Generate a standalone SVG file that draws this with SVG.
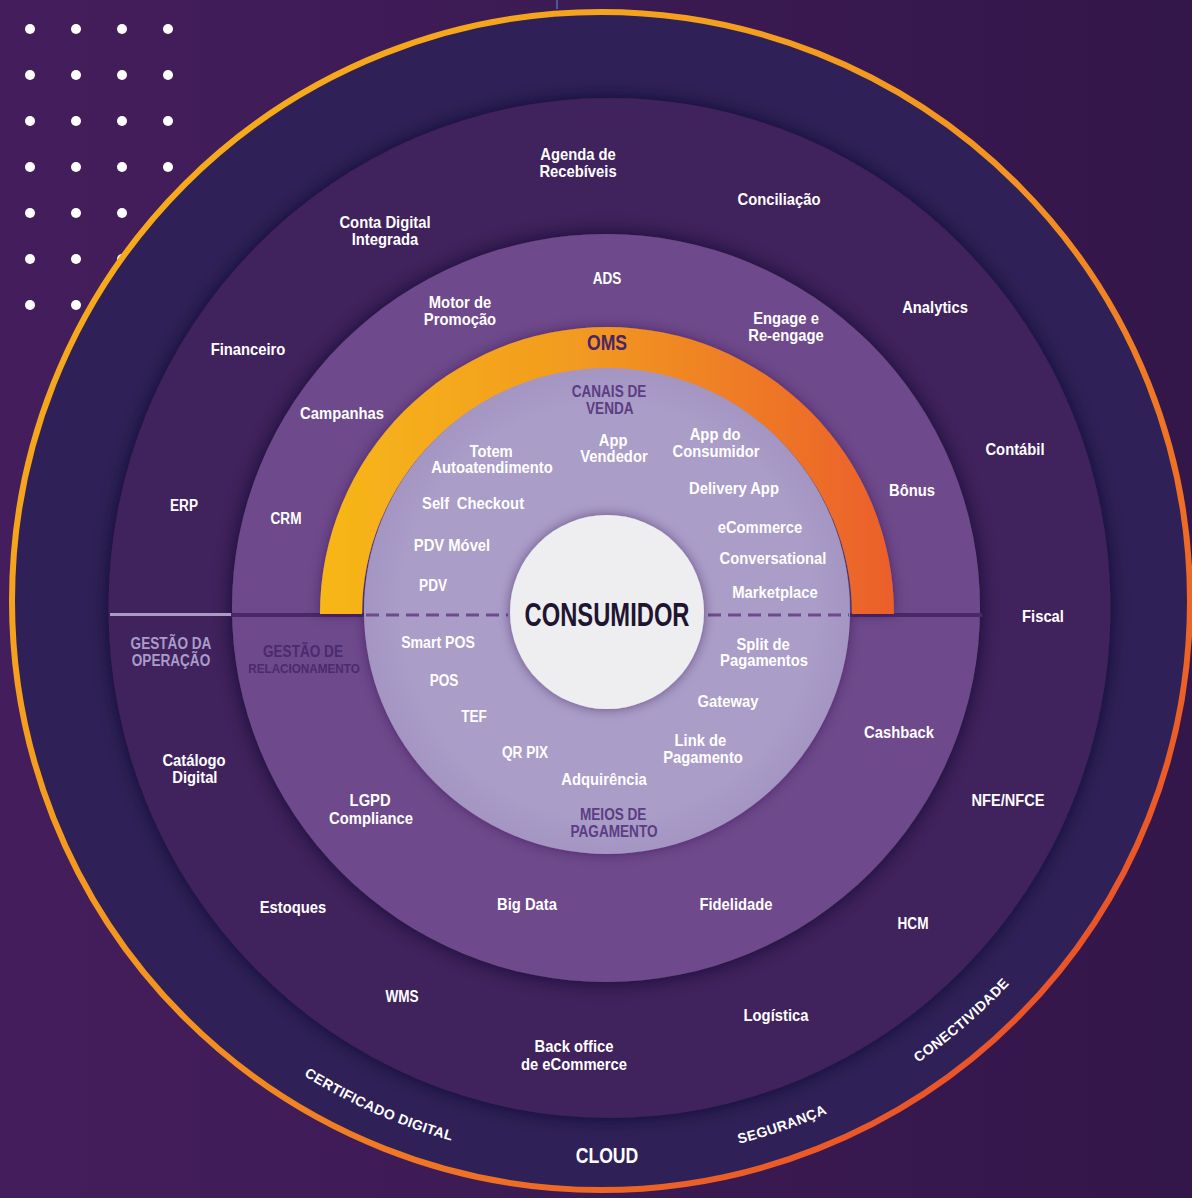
<svg xmlns="http://www.w3.org/2000/svg" width="1192" height="1198" viewBox="0 0 1192 1198">
  <defs>
    <linearGradient id="bg" x1="0" y1="0" x2="1" y2="0">
      <stop offset="0" stop-color="#441E5C"/>
      <stop offset="1" stop-color="#33164A"/>
    </linearGradient>
    <linearGradient id="ringStroke" x1="100" y1="100" x2="1100" y2="1100" gradientUnits="userSpaceOnUse">
      <stop offset="0" stop-color="#F6AE1A"/>
      <stop offset="0.5" stop-color="#F39220"/>
      <stop offset="1" stop-color="#E8482A"/>
    </linearGradient>
    <linearGradient id="omsGrad" x1="320" y1="0" x2="894" y2="0" gradientUnits="userSpaceOnUse">
      <stop offset="0" stop-color="#F7B718"/>
      <stop offset="0.45" stop-color="#F29A20"/>
      <stop offset="1" stop-color="#EB5F2B"/>
    </linearGradient>
    <radialGradient id="lightGrad" cx="0.5" cy="0.5" r="0.5">
      <stop offset="0.85" stop-color="#AA9DC8"/>
      <stop offset="1" stop-color="#A495C2"/>
    </radialGradient>
    <filter id="sh" x="-15%" y="-15%" width="130%" height="130%">
      <feDropShadow dx="0" dy="0" stdDeviation="10" flood-color="#0E0720" flood-opacity="0.7"/>
    </filter>
    <filter id="shs" x="-15%" y="-15%" width="130%" height="130%">
      <feDropShadow dx="0" dy="0" stdDeviation="6" flood-color="#2A1640" flood-opacity="0.5"/>
    </filter>
    <path id="bandPath" d="M 41 601 A 560 560 0 0 0 1161 601"/>
    <style>
      text { font-family: "Liberation Sans", Arial, sans-serif; font-weight: 700; text-anchor: middle; }
      .t { fill: #FFFFFF; font-size: 17px; transform-box: fill-box; transform-origin: center; transform: scaleX(0.87); }
      .c { fill: #FFFFFF; font-size: 17px; transform-box: fill-box; transform-origin: center; transform: scaleX(0.8); }
      .op { fill: #A99CC9; }
      .rel { fill: #4B2A6E; }
      .sec { fill: #5C3D83; }
      .relsm { fill: #4B2A6E; font-size: 13px; transform-box: fill-box; transform-origin: center; transform: scaleX(0.9); }
      .band { fill: #FFFFFF; font-size: 14px; letter-spacing: 0.4px; }
      .dot { fill: #FFFFFF; }
    </style>
  </defs>

  <rect width="1192" height="1198" fill="url(#bg)"/>

  <g id="dots">
    <circle class="dot" cx="30" cy="29" r="5"/><circle class="dot" cx="76" cy="29" r="5"/><circle class="dot" cx="122" cy="29" r="5"/><circle class="dot" cx="168" cy="29" r="5"/>
    <circle class="dot" cx="30" cy="75" r="5"/><circle class="dot" cx="76" cy="75" r="5"/><circle class="dot" cx="122" cy="75" r="5"/><circle class="dot" cx="168" cy="75" r="5"/>
    <circle class="dot" cx="30" cy="121" r="5"/><circle class="dot" cx="76" cy="121" r="5"/><circle class="dot" cx="122" cy="121" r="5"/><circle class="dot" cx="168" cy="121" r="5"/>
    <circle class="dot" cx="30" cy="167" r="5"/><circle class="dot" cx="76" cy="167" r="5"/><circle class="dot" cx="122" cy="167" r="5"/><circle class="dot" cx="168" cy="167" r="5"/>
    <circle class="dot" cx="30" cy="213" r="5"/><circle class="dot" cx="76" cy="213" r="5"/><circle class="dot" cx="122" cy="213" r="5"/><circle class="dot" cx="168" cy="213" r="5"/>
    <circle class="dot" cx="30" cy="259" r="5"/><circle class="dot" cx="76" cy="259" r="5"/><circle class="dot" cx="122" cy="259" r="5"/><circle class="dot" cx="168" cy="259" r="5"/>
    <circle class="dot" cx="30" cy="305" r="5"/><circle class="dot" cx="76" cy="305" r="5"/><circle class="dot" cx="122" cy="305" r="5"/><circle class="dot" cx="168" cy="305" r="5"/>
  </g>
  <line x1="557" y1="0" x2="557" y2="9" stroke="#4A6FB0" stroke-width="1.5"/>

  <g id="ring-infra">
    <circle cx="601" cy="601" r="589" fill="#2F2157" stroke="url(#ringStroke)" stroke-width="6"/>
    <text class="band"><textPath href="#bandPath" startOffset="36.8%">CERTIFICADO DIGITAL</textPath></text>
    <text class="band"><textPath href="#bandPath" startOffset="60.6%">SEGURANÇA</textPath></text>
    <text class="band"><textPath href="#bandPath" startOffset="72.6%">CONECTIVIDADE</textPath></text>
    <text class="c" x="607" y="1163" style="font-size:22px">CLOUD</text>
  </g>

  <g id="ring-operacao">
    <ellipse cx="609.5" cy="608" rx="501" ry="510" fill="#40205C" filter="url(#sh)"/>
  </g>

  <g id="ring-relacionamento">
    <circle cx="606" cy="608" r="374" fill="#6E4A8B" filter="url(#sh)"/>
  </g>

  <g id="connectors">
    <line x1="110" y1="614.5" x2="231" y2="614.5" stroke="#A99BC6" stroke-width="3"/>
    <line x1="231" y1="615" x2="364" y2="615" stroke="#4A2868" stroke-width="4"/>
    <line x1="850" y1="615" x2="982" y2="615" stroke="#4A2868" stroke-width="4"/>
  </g>

  <g id="oms-canais-meios" filter="url(#shs)">
    <path d="M 320 614 A 287 287 0 0 1 894 614 L 852 614 A 245 245 0 0 0 362 614 Z" fill="url(#omsGrad)"/>
    <circle cx="607" cy="611" r="243" fill="url(#lightGrad)"/>
  </g>

  <g id="divider">
    <line x1="366" y1="615" x2="508" y2="615" stroke="#6E4A8B" stroke-width="3" stroke-dasharray="13 7"/>
    <line x1="708" y1="615" x2="849" y2="615" stroke="#6E4A8B" stroke-width="3" stroke-dasharray="13 7"/>
  </g>

  <g id="consumidor">
    <circle cx="607" cy="612" r="97" fill="#EEEEF1" filter="url(#shs)"/>
    <text x="607" y="626" style="fill:#1E1530;font-size:33px;transform-box:fill-box;transform-origin:center;transform:scaleX(0.72)">CONSUMIDOR</text>
  </g>

  <g id="labels-operacao">
    <text class="t"><tspan x="578" y="160">Agenda de</tspan><tspan x="578" y="177">Recebíveis</tspan></text>
    <text class="t"><tspan x="385" y="228">Conta Digital</tspan><tspan x="385" y="245">Integrada</tspan></text>
    <text class="t" x="779" y="205">Conciliação</text>
    <text class="t" x="248" y="355">Financeiro</text>
    <text class="t" x="935" y="313">Analytics</text>
    <text class="c" x="184" y="511">ERP</text>
    <text class="t" x="1015" y="455">Contábil</text>
    <text class="t" x="1043" y="622">Fiscal</text>
    <text class="c op"><tspan x="171" y="649">GESTÃO DA</tspan><tspan x="171" y="666">OPERAÇÃO</tspan></text>
    <text class="t"><tspan x="194" y="766">Catálogo</tspan><tspan x="195" y="783">Digital</tspan></text>
    <text class="c" x="1008" y="806" style="transform:scaleX(0.86)">NFE/NFCE</text>
    <text class="t" x="293" y="913">Estoques</text>
    <text class="c" x="913" y="929">HCM</text>
    <text class="c" x="402" y="1002">WMS</text>
    <text class="t" x="776" y="1021">Logística</text>
    <text class="t"><tspan x="574" y="1052">Back office</tspan><tspan x="574" y="1070">de eCommerce</tspan></text>
  </g>

  <g id="labels-relacionamento">
    <text class="c" x="607" y="284">ADS</text>
    <text class="t"><tspan x="460" y="308">Motor de</tspan><tspan x="460" y="325">Promoção</tspan></text>
    <text class="t"><tspan x="786" y="324">Engage e</tspan><tspan x="786" y="341">Re-engage</tspan></text>
    <text class="t" x="342" y="419">Campanhas</text>
    <text class="c" x="286" y="524">CRM</text>
    <text class="t" x="912" y="496">Bônus</text>
    <text class="c rel" x="303" y="657">GESTÃO DE</text>
    <text class="relsm" x="304" y="673">RELACIONAMENTO</text>
    <text class="t" x="899" y="738">Cashback</text>
    <text class="t"><tspan x="370" y="806">LGPD</tspan><tspan x="371" y="824">Compliance</tspan></text>
    <text class="t" x="527" y="910">Big Data</text>
    <text class="t" x="736" y="910">Fidelidade</text>
  </g>

  <g id="oms">
    <text class="c" x="607" y="350" style="fill:#4B2466;font-size:22px">OMS</text>
  </g>

  <g id="labels-canais">
    <text class="c sec"><tspan x="609" y="397">CANAIS DE</tspan><tspan x="610" y="414">VENDA</tspan></text>
    <text class="t"><tspan x="491" y="457">Totem</tspan><tspan x="492" y="473">Autoatendimento</tspan></text>
    <text class="t"><tspan x="613" y="446">App</tspan><tspan x="614" y="462">Vendedor</tspan></text>
    <text class="t"><tspan x="715" y="440">App do</tspan><tspan x="716" y="457">Consumidor</tspan></text>
    <text class="t" x="734" y="494">Delivery App</text>
    <text class="t" x="473" y="509" style="word-spacing:4px">Self Checkout</text>
    <text class="t" x="760" y="533">eCommerce</text>
    <text class="t" x="452" y="551">PDV Móvel</text>
    <text class="t" x="773" y="564">Conversational</text>
    <text class="c" x="433" y="591">PDV</text>
    <text class="t" x="775" y="598">Marketplace</text>
  </g>

  <g id="labels-meios">
    <text class="t" x="438" y="648" style="transform:scaleX(0.83)">Smart POS</text>
    <text class="t"><tspan x="763" y="650">Split de</tspan><tspan x="764" y="666">Pagamentos</tspan></text>
    <text class="c" x="444" y="686">POS</text>
    <text class="t" x="728" y="707">Gateway</text>
    <text class="c" x="474" y="722">TEF</text>
    <text class="t"><tspan x="700" y="746">Link de</tspan><tspan x="703" y="763">Pagamento</tspan></text>
    <text class="c" x="525" y="758">QR PIX</text>
    <text class="t" x="604" y="785">Adquirência</text>
    <text class="c sec"><tspan x="613" y="820">MEIOS DE</tspan><tspan x="614" y="837">PAGAMENTO</tspan></text>
  </g>
</svg>
